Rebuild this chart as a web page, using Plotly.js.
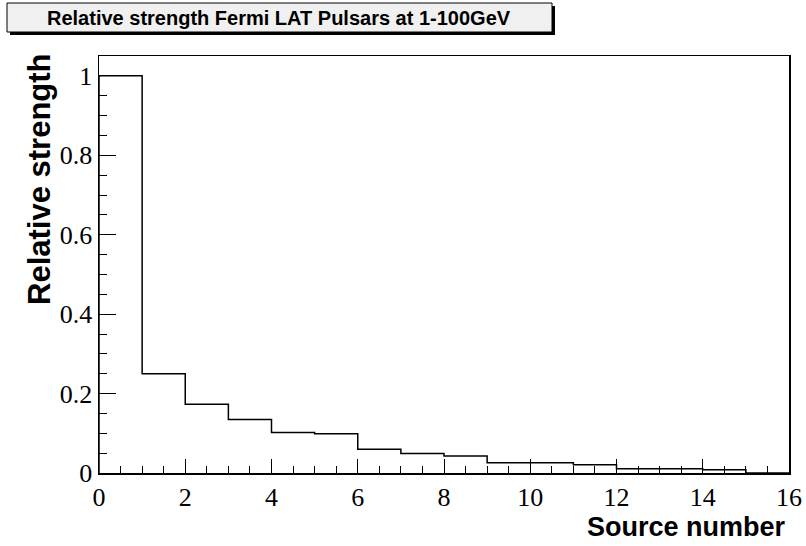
<!DOCTYPE html>
<html>
<head>
<meta charset="utf-8">
<script src="https://cdn.plot.ly/plotly-3.0.1.min.js"></script>
<style>html,body{margin:0;padding:0;background:#fff;}#chart{width:806px;height:546px;}</style>
</head>
<body>
<div id="chart"></div>
<script>
// Bin low edges (source number) and relative strengths
var sourceNumber = [0,1,2,3,4,5,6,7,8,9,10,11,12,13,14];
var relStrength = [1.0,0.25,0.173,0.135,0.102,0.099,0.060,0.049,0.043,0.026,0.026,0.021,0.011,0.011,0.008];
var binWidth = 1;
var chartTitle = "Relative strength Fermi LAT Pulsars at 1-100GeV";
var xTitle = "Source number";
var yTitle = "Relative strength";

// Build step outline from the histogram bins
var xs = [sourceNumber[0]], ys = [0];
for (var i = 0; i < sourceNumber.length; i++) { xs.push(sourceNumber[i]); ys.push(relStrength[i]); }
var lastEdge = sourceNumber[sourceNumber.length-1] + binWidth;
xs.push(lastEdge); ys.push(0);
xs.push(16); ys.push(0);

var trace = {
  x: xs, y: ys, type: 'scatter', mode: 'lines',
  line: {shape: 'hv', color: '#000', width: 1.5},
  hoverinfo: 'skip', showlegend: false
};

var W = 806, H = 546, L = 99, R = 17, T = 56, B = 73;
var pw = W - L - R, ph = H - T - B;
function px(x){ return (x - L) / pw; }
function py(y){ return (H - B - y) / ph; }

var layout = {
  width: W, height: H,
  margin: {l: L, r: R, t: T, b: B, pad: 0},
  paper_bgcolor: '#fff', plot_bgcolor: '#fff',
  showlegend: false,
  xaxis: {
    range: [0, 16], dtick: 2, tick0: 0, ticks: 'inside', ticklen: 14, tickwidth: 1, tickcolor: '#000',
    minor: {dtick: 0.5, ticklen: 7, ticks: 'inside', tickcolor: '#000', tickwidth: 1, showgrid: false},
    showline: true, linecolor: '#000', linewidth: 1.5, mirror: true,
    showgrid: false, zeroline: false,
    tickfont: {family: 'Liberation Serif, Times New Roman, serif', size: 26, color: '#000'}
  },
  yaxis: {
    range: [0, 1.05], dtick: 0.2, tick0: 0, ticks: 'inside', ticklen: 17, tickwidth: 1, tickcolor: '#000',
    minor: {dtick: 0.05, ticklen: 8, ticks: 'inside', tickcolor: '#000', tickwidth: 1, showgrid: false},
    showline: true, linecolor: '#000', linewidth: 1.5, mirror: true,
    showgrid: false, zeroline: false,
    tickfont: {family: 'Liberation Serif, Times New Roman, serif', size: 26, color: '#000'}
  },
  shapes: [
    {type: 'rect', xref: 'paper', yref: 'paper', x0: px(10), x1: px(555), y0: py(35), y1: py(6),
     fillcolor: '#000', line: {width: 0}, layer: 'above'},
    {type: 'rect', xref: 'paper', yref: 'paper', x0: px(7), x1: px(552), y0: py(32), y1: py(3),
     fillcolor: '#f0f0f0', line: {color: '#000', width: 1}, layer: 'above'}
  ],
  annotations: [
    {text: '<b>' + chartTitle + '</b>', xref: 'paper', yref: 'paper', x: px(279), y: py(18),
     xanchor: 'center', yanchor: 'middle', showarrow: false,
     font: {family: 'Liberation Sans, Arial, sans-serif', size: 20, color: '#000'}},
    {text: '<b>' + xTitle + '</b>', xref: 'paper', yref: 'paper', x: px(788), y: py(527),
     xanchor: 'right', yanchor: 'middle', showarrow: false,
     font: {family: 'Liberation Sans, Arial, sans-serif', size: 27, color: '#000'}},
    {text: '<b>' + yTitle + '</b>', xref: 'paper', yref: 'paper', x: px(39), y: py(51),
     xanchor: 'center', yanchor: 'top', textangle: -90, showarrow: false,
     font: {family: 'Liberation Sans, Arial, sans-serif', size: 31, color: '#000'}}
  ]
};

Plotly.newPlot('chart', [trace], layout, {displayModeBar: false, staticPlot: true});
</script>
</body>
</html>
